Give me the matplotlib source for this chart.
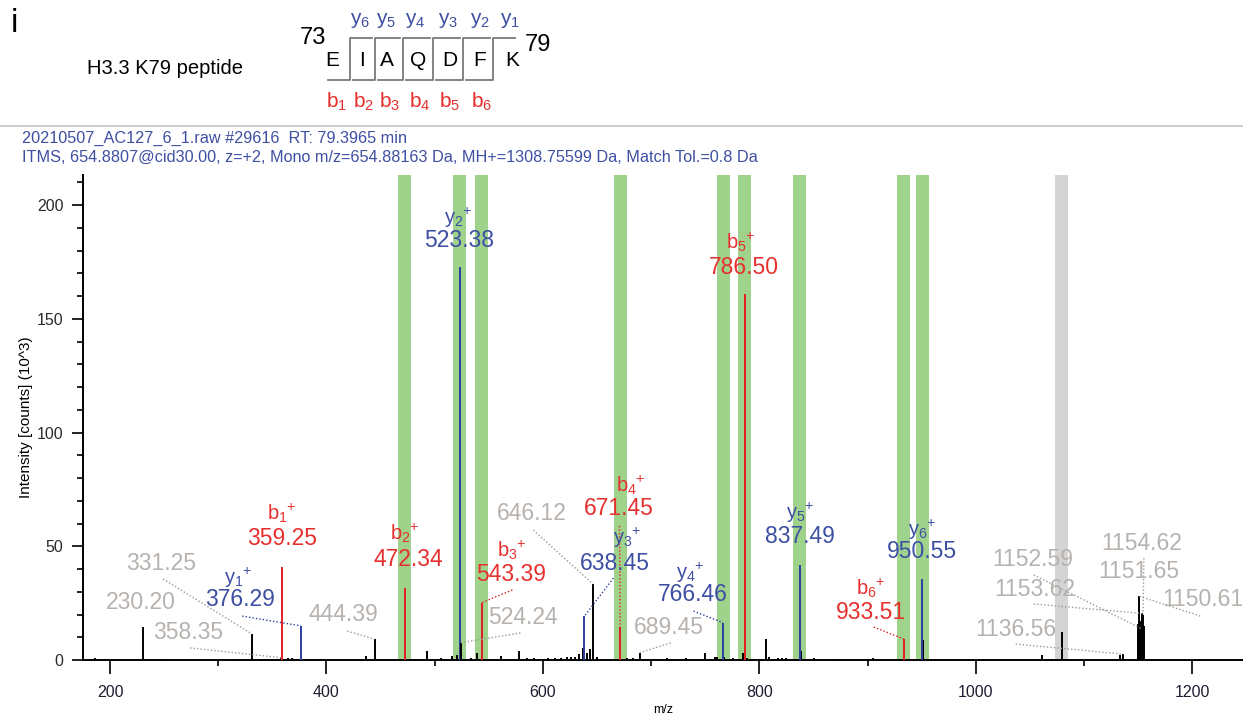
import matplotlib
matplotlib.use("Agg")
import matplotlib.pyplot as plt
from matplotlib.ticker import MultipleLocator

plt.rcParams['font.family'] = ['Liberation Sans', 'DejaVu Sans']
plt.rcParams['mathtext.fontset'] = 'custom'
plt.rcParams['mathtext.rm'] = 'Liberation Sans'
plt.rcParams['mathtext.it'] = 'Liberation Sans:italic'
plt.rcParams['mathtext.bf'] = 'Liberation Sans:bold'

# annotated peaks: m/z, intensity (10^3 counts), fragment ion (None = unassigned)
peak_mz = [230.20, 331.25, 358.35, 359.25, 376.29, 444.39, 472.34, 523.38, 524.24,
           543.39, 638.45, 646.12, 671.45, 689.45, 766.46, 786.50, 837.49, 933.51,
           950.55, 1136.56, 1150.61, 1151.65, 1152.59, 1153.62, 1154.62]
peak_int = [14.5, 11.4, 1.0, 41.0, 15.0, 9.2, 31.6, 172.7, 7.6,
            25.2, 19.3, 33.4, 14.5, 3.2, 16.4, 161.0, 41.8, 9.2,
            35.6, 2.6, 28.1, 17.0, 13.9, 20.5, 20.0]
peak_ion = [None, None, None, 'b1', 'y1', None, 'b2', 'y2', None,
            'b3', 'y3', None, 'b4', None, 'y4', 'b5', 'y5', 'b6',
            'y6', None, None, None, None, None, None]

# remaining unannotated centroids
other_mz = [186.0, 248.7, 301.7, 313.8, 364.6, 368.0, 386.5, 436.8, 493.0, 506.0,
            516.0, 521.0, 533.6, 539.5, 561.3, 577.7, 585.0, 592.0, 598.0, 605.0,
            611.0, 617.0, 622.0, 626.0, 630.0, 633.0, 637.2, 640.9, 643.3, 650.0,
            677.8, 683.4, 714.9, 731.8, 749.4, 758.6, 761.0, 767.5, 776.0, 785.0,
            789.0, 793.5, 806.4, 808.6, 817.0, 821.0, 825.0, 838.2, 850.5, 872.0,
            900.0, 905.0, 950.9, 1060.8, 1079.6, 1133.5, 1149.6, 1150.2, 1155.2]
other_int = [1.0, 0.5, 0.5, 0.6, 0.8, 0.8, 0.6, 1.9, 4.1, 0.8,
             1.8, 2.0, 1.0, 3.2, 1.8, 4.0, 0.7, 0.9, 0.6, 0.8,
             0.7, 1.0, 1.2, 1.4, 1.5, 2.5, 5.1, 2.9, 4.7, 1.5,
             1.0, 0.8, 0.7, 0.7, 2.9, 1.5, 1.5, 1.5, 0.8, 2.9,
             1.0, 0.6, 9.1, 1.5, 0.8, 0.7, 0.7, 4.1, 0.7, 0.6,
             0.6, 1.0, 9.0, 2.2, 12.2, 2.0, 12.0, 16.0, 15.0]

# highlighted matched-ion windows
match_mz = [472.34, 523.38, 543.39, 671.45, 766.46, 786.50, 837.49, 933.51, 950.55]
excluded_mz = [1079.6]

sequence = ['E', 'I', 'A', 'Q', 'D', 'F', 'K']

# label layout: (number x, number y, ion-name x, ion-name y, leader x, leader y)
label_pos = {
    230.20: (228.7, 25.1, None, None, None, None),
    331.25: (247.2, 42.6, None, None, 249.0, 35.6),
    358.35: (272.1, 11.9, None, None, 274.0, 5.3),
    359.25: (359.1, 53.6, 359.1, 64.6, None, None),
    376.29: (320.2, 26.4, 318.0, 36.0, 322.1, 19.3),
    444.39: (415.5, 19.8, None, None, 419.2, 12.7),
    472.34: (475.6, 44.0, 472.8, 55.8, None, None),
    523.38: (522.8, 184.2, 521.9, 194.3, None, None),
    524.24: (581.1, 18.5, None, None, 579.2, 11.9),
    543.39: (570.9, 37.4, 570.9, 48.4, 571.8, 30.8),
    638.45: (666.1, 42.6, 678.1, 53.6, 665.2, 36.0),
    646.12: (589.4, 64.2, None, None, 591.2, 57.1),
    671.45: (669.8, 66.4, 680.9, 76.9, 670.8, 58.9),
    689.45: (716.1, 14.5, None, None, 718.0, 7.5),
    766.46: (738.3, 28.6, 736.5, 38.2, 739.2, 21.5),
    786.50: (785.5, 172.7, 782.7, 183.7, None, None),
    837.49: (837.3, 54.1, 838.2, 64.6, None, None),
    933.51: (902.9, 21.1, 902.9, 31.6, 905.7, 14.5),
    950.55: (950.1, 47.5, 951.0, 57.1, None, None),
    1136.56: (1037.0, 13.6, None, None, 1037.0, 7.0),
    1150.61: (1209.5, 26.4, None, None, 1207.5, 19.3),
    1151.65: (1150.8, 38.7, None, None, None, None),
    1152.59: (1052.7, 44.0, None, None, 1053.7, 37.4),
    1153.62: (1054.6, 31.2, None, None, 1053.7, 24.6),
    1154.62: (1153.6, 51.4, None, None, 1155.4, 44.8),
}

RED_LINE, BLUE_LINE = '#e31e24', '#2c3f9e'
RED_TXT, BLUE_TXT, GREY_TXT = '#e5302e', '#3d4fa2', '#b7b2ae'

fig = plt.figure(figsize=(12.43, 7.17), dpi=100)
ax = fig.add_axes([83 / 1243, 57 / 717, 1160 / 1243, 485 / 717])

for m in match_mz:
    ax.axvspan(m - 6.0, m + 6.0, color='#9fd38c', lw=0, zorder=0)
for m in excluded_mz:
    ax.axvspan(m - 6.0, m + 6.0, color='#d4d4d4', lw=0, zorder=0)

ax.vlines(other_mz, 0, other_int, colors='black', lw=1.4, zorder=2)

line_colors = []
for ion in peak_ion:
    if ion is None:
        line_colors.append('black')
    elif ion[0] == 'b':
        line_colors.append(RED_LINE)
    else:
        line_colors.append(BLUE_LINE)
ax.vlines(peak_mz, 0, peak_int, colors=line_colors, lw=1.4, zorder=3)

for m, h, ion in zip(peak_mz, peak_int, peak_ion):
    nx, ny, ix, iy, lx, ly = label_pos[m]
    if ion is None:
        tcol, lcol = GREY_TXT, '#9a9a9a'
    elif ion[0] == 'b':
        tcol, lcol = RED_TXT, RED_LINE
    else:
        tcol, lcol = BLUE_TXT, BLUE_LINE
    ax.text(nx, ny, f'{m:.2f}', color=tcol, fontsize=16.5,
            ha='center', va='center', zorder=5)
    if ion is not None:
        ax.text(ix, iy, f'{ion[0]}$_{{{ion[1]}}}$$^{{+}}$', color=tcol, fontsize=14.5,
                ha='center', va='center', zorder=5)
    if lx is not None:
        ax.plot([lx, m], [ly, h], ls=(0, (1, 1.5)), color=lcol, lw=1.0, zorder=4)

ax.set_xlim(175, 1247)
ax.set_ylim(0, 213.2)
ax.xaxis.set_major_locator(MultipleLocator(200))
ax.xaxis.set_minor_locator(MultipleLocator(100))
ax.yaxis.set_major_locator(MultipleLocator(50))
ax.yaxis.set_minor_locator(MultipleLocator(10))
ax.tick_params(axis='x', which='major', length=10, width=1.2, labelsize=11.5,
               labelcolor='#1e1e30', pad=8)
ax.tick_params(axis='x', which='minor', length=4, width=1.2)
ax.tick_params(axis='y', which='major', length=8, width=1.2, labelsize=11.5,
               labelcolor='#2a2a2a', pad=6)
ax.tick_params(axis='y', which='minor', length=4, width=1.2)
for side in ['top', 'right']:
    ax.spines[side].set_visible(False)
for side in ['left', 'bottom']:
    ax.spines[side].set_linewidth(1.4)
ax.set_xlabel('m/z', fontsize=9, labelpad=3)
ax.set_ylabel('Intensity [counts] (10^3)', fontsize=11, labelpad=3)

# header drawn in pixel coordinates
hdr = fig.add_axes([0, 0, 1, 1], zorder=-1)
hdr.set_xlim(0, 1243)
hdr.set_ylim(717, 0)
hdr.axis('off')

hdr.text(14, 24, 'i', fontsize=24, ha='center', va='center')
hdr.text(87, 68, 'H3.3 K79 peptide', fontsize=14.5, ha='left', va='center')
hdr.plot([0, 1243], [126, 126], color='#c4c4c4', lw=1.2)

letter_x = [332, 362, 387, 418, 450, 480, 512]
for ch, x in zip(sequence, letter_x):
    hdr.text(x, 61, ch, fontsize=15, ha='center', va='center')
hdr.text(313, 38, '73', fontsize=17, ha='center', va='center')
hdr.text(538, 45, '79', fontsize=17, ha='center', va='center')

cut_x = [350, 375, 403, 433, 463, 493]
b_x = [337, 364, 390, 420, 450, 482]
y_x = [360, 386, 415, 448, 480, 510]
prev = 328
for i, cx in enumerate(cut_x):
    nxt = cut_x[i + 1] if i + 1 < len(cut_x) else 518
    hdr.plot([prev, cx, cx, nxt - 3], [80, 80, 38, 38], color='#7a7a7a', lw=1.3)
    prev = cx + 3
    hdr.text(b_x[i], 102, f'b$_{{{i + 1}}}$', color=RED_TXT, fontsize=15,
             ha='center', va='center')
    hdr.text(y_x[i], 21, f'y$_{{{len(cut_x) - i}}}$', color=BLUE_TXT, fontsize=15,
             ha='center', va='center')

hdr.text(22, 138, '20210507_AC127_6_1.raw #29616  RT: 79.3965 min',
         fontsize=11.7, color='#3f4fa3', ha='left', va='center')
hdr.text(22, 157, 'ITMS, 654.8807@cid30.00, z=+2, Mono m/z=654.88163 Da, '
         'MH+=1308.75599 Da, Match Tol.=0.8 Da',
         fontsize=11.7, color='#3f4fa3', ha='left', va='center')

fig.savefig('out.png', dpi=100)
